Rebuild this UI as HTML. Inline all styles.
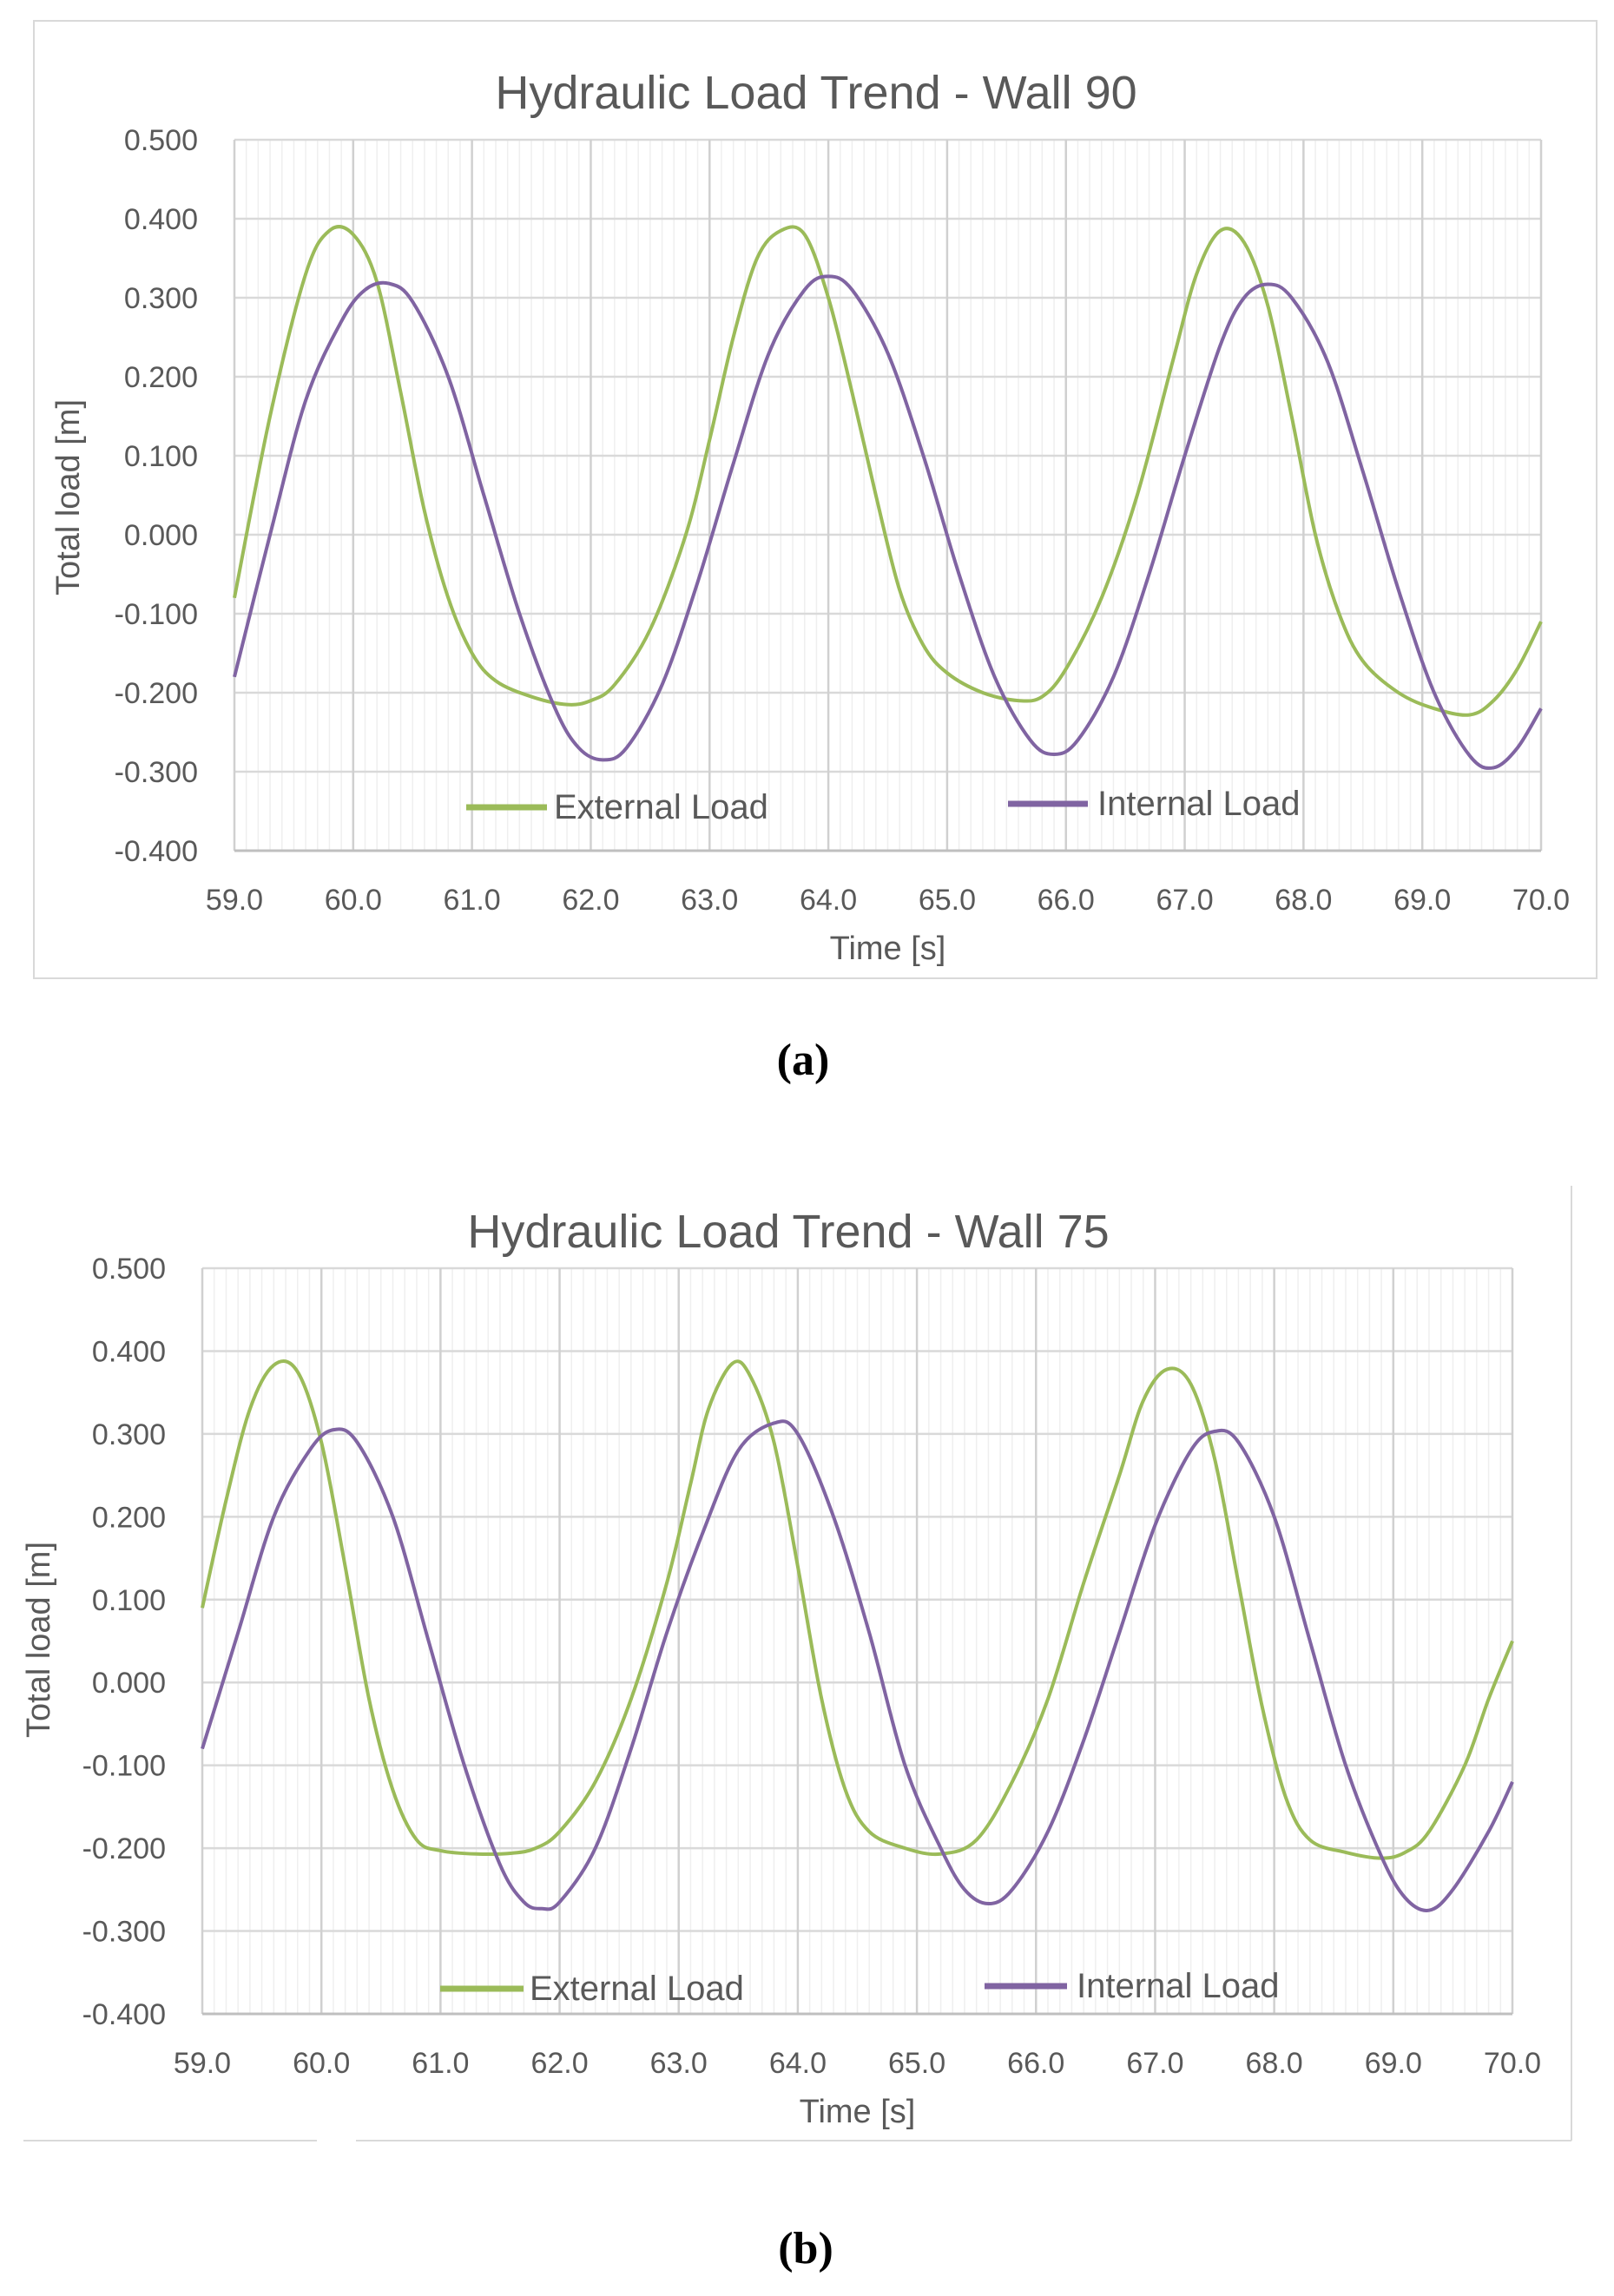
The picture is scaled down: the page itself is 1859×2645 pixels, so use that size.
<!DOCTYPE html>
<html><head><meta charset="utf-8"><style>
body{margin:0;background:#fff;}
svg{display:block;font-family:"Liberation Sans","DejaVu Sans",sans-serif;}
</style></head><body>
<svg id="s" width="1859" height="2645" viewBox="0 0 1859 2645" xmlns="http://www.w3.org/2000/svg"></svg>
<script>
const xTicks=[59,60,61,62,63,64,65,66,67,68,69,70];
const yTicks=[0.5,0.4,0.3,0.2,0.1,0,-0.1,-0.2,-0.3,-0.4];
const aExtT=[59.0,59.3,59.6,59.8,60.0,60.2,60.4,60.6,60.8,61.0,61.2,61.5,61.8,62.0,62.2,62.5,62.8,63.0,63.2,63.4,63.6,63.8,64.0,64.2,64.4,64.6,64.8,65.0,65.3,65.6,65.8,66.0,66.3,66.6,66.9,67.1,67.3,67.5,67.7,67.9,68.1,68.3,68.5,68.8,69.1,69.4,69.6,69.8,70.0];
const aExtV=[-0.08,0.15,0.33,0.385,0.38,0.32,0.18,0.03,-0.08,-0.15,-0.185,-0.205,-0.215,-0.21,-0.19,-0.12,0.0,0.12,0.25,0.35,0.385,0.38,0.30,0.18,0.05,-0.07,-0.14,-0.175,-0.2,-0.21,-0.205,-0.17,-0.08,0.05,0.22,0.33,0.385,0.37,0.29,0.15,0.0,-0.1,-0.16,-0.2,-0.22,-0.228,-0.21,-0.17,-0.11];
const aIntT=[59.0,59.3,59.6,59.9,60.1,60.3,60.5,60.8,61.1,61.4,61.7,61.9,62.1,62.3,62.6,62.9,63.2,63.5,63.8,64.0,64.2,64.5,64.8,65.1,65.4,65.7,65.9,66.1,66.4,66.7,67.0,67.3,67.5,67.7,67.9,68.2,68.5,68.8,69.1,69.4,69.6,69.8,70.0];
const aIntV=[-0.18,0.0,0.17,0.27,0.31,0.318,0.295,0.2,0.05,-0.1,-0.22,-0.27,-0.285,-0.27,-0.19,-0.06,0.09,0.23,0.31,0.327,0.31,0.23,0.1,-0.05,-0.18,-0.26,-0.278,-0.26,-0.18,-0.05,0.1,0.24,0.3,0.317,0.3,0.22,0.08,-0.07,-0.2,-0.28,-0.295,-0.27,-0.22];
const bExtT=[59.0,59.2,59.4,59.6,59.8,60.0,60.2,60.4,60.6,60.8,61.0,61.3,61.6,61.8,62.0,62.3,62.6,62.9,63.1,63.25,63.45,63.6,63.8,64.0,64.2,64.4,64.6,64.9,65.2,65.5,65.8,66.1,66.4,66.7,66.9,67.1,67.3,67.5,67.7,67.9,68.1,68.3,68.6,68.9,69.1,69.3,69.6,69.8,70.0];
const bExtV=[0.09,0.22,0.33,0.383,0.375,0.29,0.14,-0.02,-0.13,-0.19,-0.203,-0.207,-0.206,-0.2,-0.18,-0.12,-0.02,0.12,0.24,0.33,0.385,0.37,0.29,0.14,-0.02,-0.13,-0.18,-0.2,-0.207,-0.19,-0.12,-0.02,0.12,0.25,0.34,0.378,0.36,0.27,0.12,-0.03,-0.14,-0.19,-0.205,-0.212,-0.205,-0.18,-0.1,-0.02,0.05];
const bIntT=[59.0,59.3,59.6,59.9,60.1,60.3,60.6,60.9,61.2,61.5,61.7,61.85,62.0,62.3,62.6,62.9,63.2,63.5,63.8,64.0,64.3,64.6,64.9,65.2,65.4,65.6,65.8,66.1,66.4,66.7,67.0,67.3,67.5,67.7,68.0,68.3,68.6,68.9,69.1,69.3,69.5,69.8,70.0];
const bIntV=[-0.08,0.06,0.2,0.28,0.305,0.29,0.2,0.05,-0.1,-0.22,-0.265,-0.273,-0.265,-0.2,-0.08,0.06,0.18,0.28,0.313,0.3,0.2,0.06,-0.1,-0.2,-0.25,-0.267,-0.25,-0.18,-0.07,0.06,0.19,0.28,0.303,0.29,0.2,0.05,-0.1,-0.21,-0.26,-0.275,-0.25,-0.18,-0.12];

const S=document.getElementById('s');const NS='http://www.w3.org/2000/svg';
function mk(tag,at,txt,p){const e=document.createElementNS(NS,tag);for(const k in at)e.setAttribute(k,at[k]);if(txt!=null)e.textContent=txt;(p||S).appendChild(e);return e;}
function smooth(pts){let d='M'+pts[0][0]+','+pts[0][1];for(let i=0;i<pts.length-1;i++){const p0=pts[i-1]||pts[i],p1=pts[i],p2=pts[i+1],p3=pts[i+2]||p2;
d+=' C'+(p1[0]+(p2[0]-p0[0])/6)+','+(p1[1]+(p2[1]-p0[1])/6)+' '+(p2[0]-(p3[0]-p1[0])/6)+','+(p2[1]-(p3[1]-p1[1])/6)+' '+p2[0]+','+p2[1];}return d;}
function chart(c){
 const g=mk('g',{});
 const X=t=>c.L+(t-59)/11*(c.R-c.L), Y=v=>c.T+(0.5-v)/0.9*(c.B-c.T);
 if(c.box){const b=mk('rect',{x:c.box[0],y:c.box[1],width:c.box[2],height:c.box[3],fill:'none',stroke:'#d9d9d9','stroke-width':2},null,g);}
 if(c.lines){c.lines.forEach(l=>{const e=mk('line',{x1:l[0],y1:l[1],x2:l[2],y2:l[3],stroke:'#d9d9d9','stroke-width':2},null,g);});}
 for(let i=0;i<=110;i++){if(i%10==0)continue;const x=X(59+i/10);const e=mk('line',{x1:x,y1:c.T,x2:x,y2:c.B,stroke:'#efefef','stroke-width':1.5},null,g);}
 yTicks.forEach(v=>{const y=Y(v);const e=mk('line',{x1:c.L,y1:y,x2:c.R,y2:y,stroke:'#d9d9d9','stroke-width':2.5},null,g);
  const t=mk('text',{x:c.L-42,y:y+12,'text-anchor':'end','font-size':34,fill:'#595959'},v.toFixed(3).replace('-0.000','0.000'),g);});
 xTicks.forEach(v=>{const x=X(v);const e=mk('line',{x1:x,y1:c.T,x2:x,y2:c.B,stroke:'#d0d0d0','stroke-width':2.5},null,g);
  const t=mk('text',{x:x,y:c.B+68,'text-anchor':'middle','font-size':34,fill:'#595959'},v.toFixed(1),g);});
 const ax=mk('line',{x1:c.L,y1:c.B,x2:c.R,y2:c.B,stroke:'#bfbfbf','stroke-width':3},null,g);
 [[c.ext,'#9bbb59','external-load-line'],[c.int,'#8064a2','internal-load-line']].forEach(s=>{const pts=s[0][0].map((t,i)=>[X(t),Y(s[0][1][i])]);
  const p=mk('path',{d:smooth(pts),fill:'none',stroke:s[1],'stroke-width':4,'stroke-linejoin':'round'},null,g);});
 const ti=mk('text',{x:c.title[0],y:c.title[1]+20,'text-anchor':'middle','font-size':54,fill:'#595959'},c.titleText,g);
 const xt=mk('text',{x:(c.L+c.R)/2,y:c.B+125,'text-anchor':'middle','font-size':38,fill:'#595959'},'Time [s]',g);
 const yt=mk('text',{x:0,y:0,'text-anchor':'middle','font-size':38,fill:'#595959',transform:'translate('+(c.yt[0]+13)+','+c.yt[1]+') rotate(-90)'},'Total load [m]',g);
 c.leg.forEach(l=>{const lg=mk('g',{},null,g);
  mk('line',{x1:l[0],y1:l[2],x2:l[1],y2:l[2],stroke:l[5],'stroke-width':7},null,lg);
  mk('text',{x:l[3],y:l[2]+13,'font-size':40,fill:'#595959'},l[6],lg);});
 const lb=mk('text',{x:c.lab[0],y:c.lab[1]+17,'text-anchor':'middle','font-size':52,'font-weight':'bold','font-family':'"Liberation Serif",serif',fill:'#000'},c.labText);
}
chart({name:'chart-wall-90',L:270,R:1775,T:161,B:980,box:[39,24,1800,1103],title:[940,105],titleText:'Hydraulic Load Trend - Wall 90',yt:[78,573],
 ext:[aExtT,aExtV],int:[aIntT,aIntV],
 leg:[[537,630,930,638,'legend-external-load','#9bbb59','External Load'],[1161,1253,926,1264,'legend-internal-load','#8064a2','Internal Load']],lab:[925,1221],labText:'(a)'});
chart({name:'chart-wall-75',L:233,R:1742,T:1461,B:2320,lines:[[1810,1366,1810,2466],[27,2466,365,2466],[410,2466,1810,2466]],title:[908,1417],titleText:'Hydraulic Load Trend - Wall 75',yt:[44,1889],
 ext:[bExtT,bExtV],int:[bIntT,bIntV],
 leg:[[507,603,2291,610,'legend-external-load','#9bbb59','External Load'],[1134,1229,2288,1240,'legend-internal-load','#8064a2','Internal Load']],lab:[928,2590],labText:'(b)'});
</script>
</body></html>
